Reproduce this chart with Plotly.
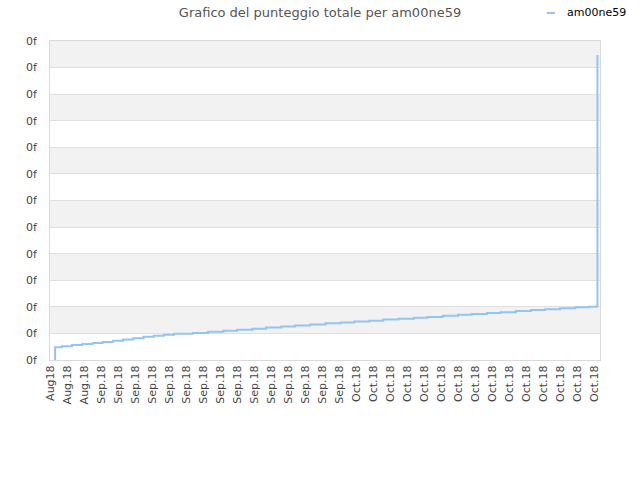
import plotly.graph_objects as go

# ── Data ──────────────────────────────────────────────────────────────────────
tick_labels = (["Aug18", "Aug.18", "Aug.18"] + ["Sep.18"] * 15 + ["Oct.18"] * 15)
tick_pos = list(range(len(tick_labels)))

# step positions (in tick units) and total score at each step
step_x = [0.25, 0.30, 0.70, 1.30, 1.90, 2.50, 3.10, 3.70, 4.30, 4.90, 5.50,
          6.10, 6.70, 7.30, 8.40, 9.30, 10.20, 11.00, 11.90, 12.70, 13.60,
          14.40, 15.30, 16.20, 17.10, 17.90, 18.80, 19.60, 20.50, 21.40,
          22.20, 23.10, 24.00, 24.80, 25.70, 26.50, 27.40, 28.30, 29.10,
          30.00, 30.90, 31.70, 32.15, 32.20]
step_y = [0.00, 0.48, 0.52, 0.56, 0.60, 0.64, 0.68, 0.72, 0.77, 0.82, 0.87,
          0.91, 0.95, 0.99, 1.02, 1.06, 1.10, 1.14, 1.18, 1.22, 1.26,
          1.30, 1.34, 1.38, 1.41, 1.45, 1.48, 1.52, 1.55, 1.59,
          1.62, 1.66, 1.70, 1.73, 1.77, 1.80, 1.84, 1.88, 1.91,
          1.95, 1.98, 2.00, 2.02, 11.47]

y_ticks = list(range(13))
y_text = ["0f"] * len(y_ticks)

series_name = "am00ne59"
line_color = "#93c4f2"

fig = go.Figure()
fig.add_trace(go.Scatter(
    x=step_x, y=step_y, mode="lines", name=series_name,
    line=dict(color=line_color, width=2, shape="hv"), showlegend=False,
))

# alternating grey bands
for k in range(1, 12, 2):
    fig.add_shape(type="rect", xref="paper", yref="y", x0=0, x1=1, y0=k, y1=k + 1,
                  fillcolor="#f2f2f2", line_width=0, layer="below")

# small legend in the top-right corner (short line sample + label)
fig.add_shape(type="line", xref="paper", yref="paper",
              x0=0.903, x1=0.918, y0=1.088, y1=1.088,
              line=dict(color=line_color, width=2))
fig.add_annotation(text=series_name, xref="paper", yref="paper",
                   x=0.936, y=1.088, xanchor="left", yanchor="middle",
                   showarrow=False, font=dict(size=11, color="#000"))

fig.update_layout(
    width=640, height=480,
    margin=dict(l=50, r=40, t=41, b=120, autoexpand=False),
    paper_bgcolor="white", plot_bgcolor="white",
    font=dict(family="DejaVu Sans", size=11, color="#444"),
    title=dict(text="Grafico del punteggio totale per am00ne59",
               x=0.5, xanchor="center", y=0.984, yanchor="top",
               pad=dict(t=0), font=dict(size=13, color="#555")),
    xaxis=dict(range=[0, 32.35], tickvals=tick_pos, ticktext=tick_labels,
               tickangle=-90, showgrid=False, zeroline=False,
               showline=True, linecolor="#d9d9d9", mirror=True,
               tickfont=dict(size=11, color="#444")),
    yaxis=dict(range=[0, 12], tickvals=y_ticks, ticktext=y_text,
               showgrid=True, gridcolor="#e0e0e0", zeroline=False,
               showline=True, linecolor="#d9d9d9", mirror=True,
               ticklabelstandoff=10,
               tickfont=dict(size=11, color="#444")),
)

# drop the default 8px body margin so the figure sits at the page corner
fig.write_html("out.html", config={"displayModeBar": False},
               post_script="document.body.style.margin='0';")
